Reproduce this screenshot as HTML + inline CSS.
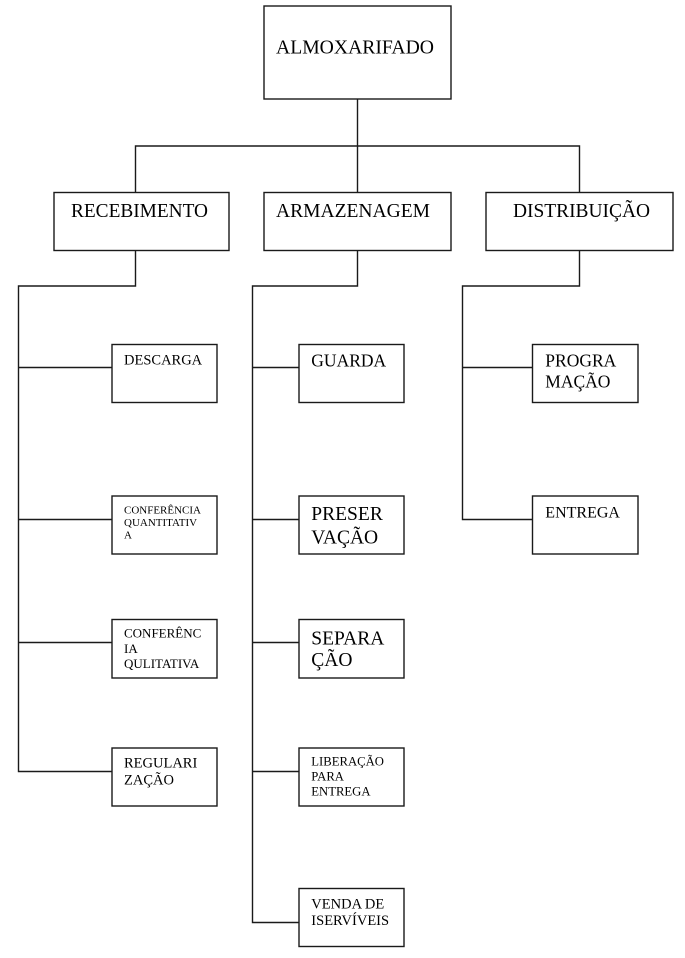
<!DOCTYPE html>
<html>
<head>
<meta charset="utf-8">
<style>
  html, body { margin: 0; padding: 0; background: #fff; }
  body { width: 685px; height: 958px; overflow: hidden; }
  svg { display: block; }
  text { font-family: "Liberation Serif", "Times New Roman", serif; fill: #000; }
</style>
</head>
<body>
<svg width="685" height="958" viewBox="0 0 685 958" xmlns="http://www.w3.org/2000/svg">
  <g fill="none" stroke="#1a1a1a" stroke-width="1.4">
    <!-- top box -->
    <rect x="264" y="6" width="187" height="93"/>
    <!-- top connectors -->
    <line x1="357.5" y1="99" x2="357.5" y2="192"/>
    <polyline points="135.5,192 135.5,146 579.5,146 579.5,192"/>
    <!-- level 2 boxes -->
    <rect x="54" y="192.5" width="175" height="58"/>
    <rect x="264" y="192.5" width="187" height="58"/>
    <rect x="486" y="192.5" width="187" height="58"/>
    <!-- branch connectors -->
    <polyline points="135.5,251 135.5,286 18.5,286 18.5,771.5 112,771.5"/>
    <line x1="18.5" y1="367.5" x2="112" y2="367.5"/>
    <line x1="18.5" y1="519.5" x2="112" y2="519.5"/>
    <line x1="18.5" y1="642.5" x2="112" y2="642.5"/>

    <polyline points="357.5,251 357.5,286 252.5,286 252.5,922.5 299,922.5"/>
    <line x1="252.5" y1="367.5" x2="299" y2="367.5"/>
    <line x1="252.5" y1="519.5" x2="299" y2="519.5"/>
    <line x1="252.5" y1="642.5" x2="299" y2="642.5"/>
    <line x1="252.5" y1="771.5" x2="299" y2="771.5"/>

    <polyline points="579.5,251 579.5,286 462.5,286 462.5,519.5 532.5,519.5"/>
    <line x1="462.5" y1="367.5" x2="532.5" y2="367.5"/>

    <!-- left column boxes -->
    <rect x="112" y="344.5" width="105" height="58"/>
    <rect x="112" y="496" width="105" height="58"/>
    <rect x="112" y="619.5" width="105" height="58.5"/>
    <rect x="112" y="748" width="105" height="58"/>
    <!-- middle column boxes -->
    <rect x="299" y="344.5" width="105" height="58"/>
    <rect x="299" y="496" width="105" height="58"/>
    <rect x="299" y="619.5" width="105" height="58.5"/>
    <rect x="299" y="748" width="105" height="58"/>
    <rect x="299" y="888.5" width="105" height="58"/>
    <!-- right column boxes -->
    <rect x="532.5" y="344.5" width="105.5" height="58"/>
    <rect x="532.5" y="496" width="105.5" height="58"/>
  </g>

  <!-- top & level 2 labels -->
  <text x="276" y="53.3" font-size="20" textLength="158" lengthAdjust="spacingAndGlyphs">ALMOXARIFADO</text>
  <text x="71" y="216.8" font-size="19.5" textLength="137" lengthAdjust="spacingAndGlyphs">RECEBIMENTO</text>
  <text x="276" y="216.8" font-size="19.5" textLength="154" lengthAdjust="spacingAndGlyphs">ARMAZENAGEM</text>
  <text x="513" y="216.8" font-size="19.5" textLength="137" lengthAdjust="spacingAndGlyphs">DISTRIBUIÇÃO</text>

  <!-- left column labels -->
  <text x="124" y="364.3" font-size="14.5">DESCARGA</text>
  <text font-size="11">
    <tspan x="124" y="513.3">CONFERÊNCIA</tspan>
    <tspan x="124" y="526">QUANTITATIV</tspan>
    <tspan x="124" y="538.4">A</tspan>
  </text>
  <text font-size="13">
    <tspan x="124" y="637.7">CONFERÊNC</tspan>
    <tspan x="124" y="653.1">IA</tspan>
    <tspan x="124" y="668">QULITATIVA</tspan>
  </text>
  <text font-size="14.5">
    <tspan x="124" y="767.7">REGULARI</tspan>
    <tspan x="124" y="784.3">ZAÇÃO</tspan>
  </text>

  <!-- middle column labels -->
  <text x="311.3" y="366.7" font-size="17.5">GUARDA</text>
  <text font-size="19.5">
    <tspan x="311.3" y="520">PRESER</tspan>
    <tspan x="311.3" y="543.3">VAÇÃO</tspan>
  </text>
  <text font-size="19.5">
    <tspan x="311.3" y="644.3">SEPARA</tspan>
    <tspan x="311.3" y="666">ÇÃO</tspan>
  </text>
  <text font-size="12.7">
    <tspan x="311.3" y="765.7">LIBERAÇÃO</tspan>
    <tspan x="311.3" y="780.7">PARA</tspan>
    <tspan x="311.3" y="795.7">ENTREGA</tspan>
  </text>
  <text font-size="14.5">
    <tspan x="311.3" y="908.3">VENDA DE</tspan>
    <tspan x="311.3" y="925">ISERVÍVEIS</tspan>
  </text>

  <!-- right column labels -->
  <text font-size="17.5">
    <tspan x="545.3" y="366.7">PROGRA</tspan>
    <tspan x="545.3" y="387.3">MAÇÃO</tspan>
  </text>
  <text x="545.3" y="517.3" font-size="16">ENTREGA</text>
</svg>
</body>
</html>
